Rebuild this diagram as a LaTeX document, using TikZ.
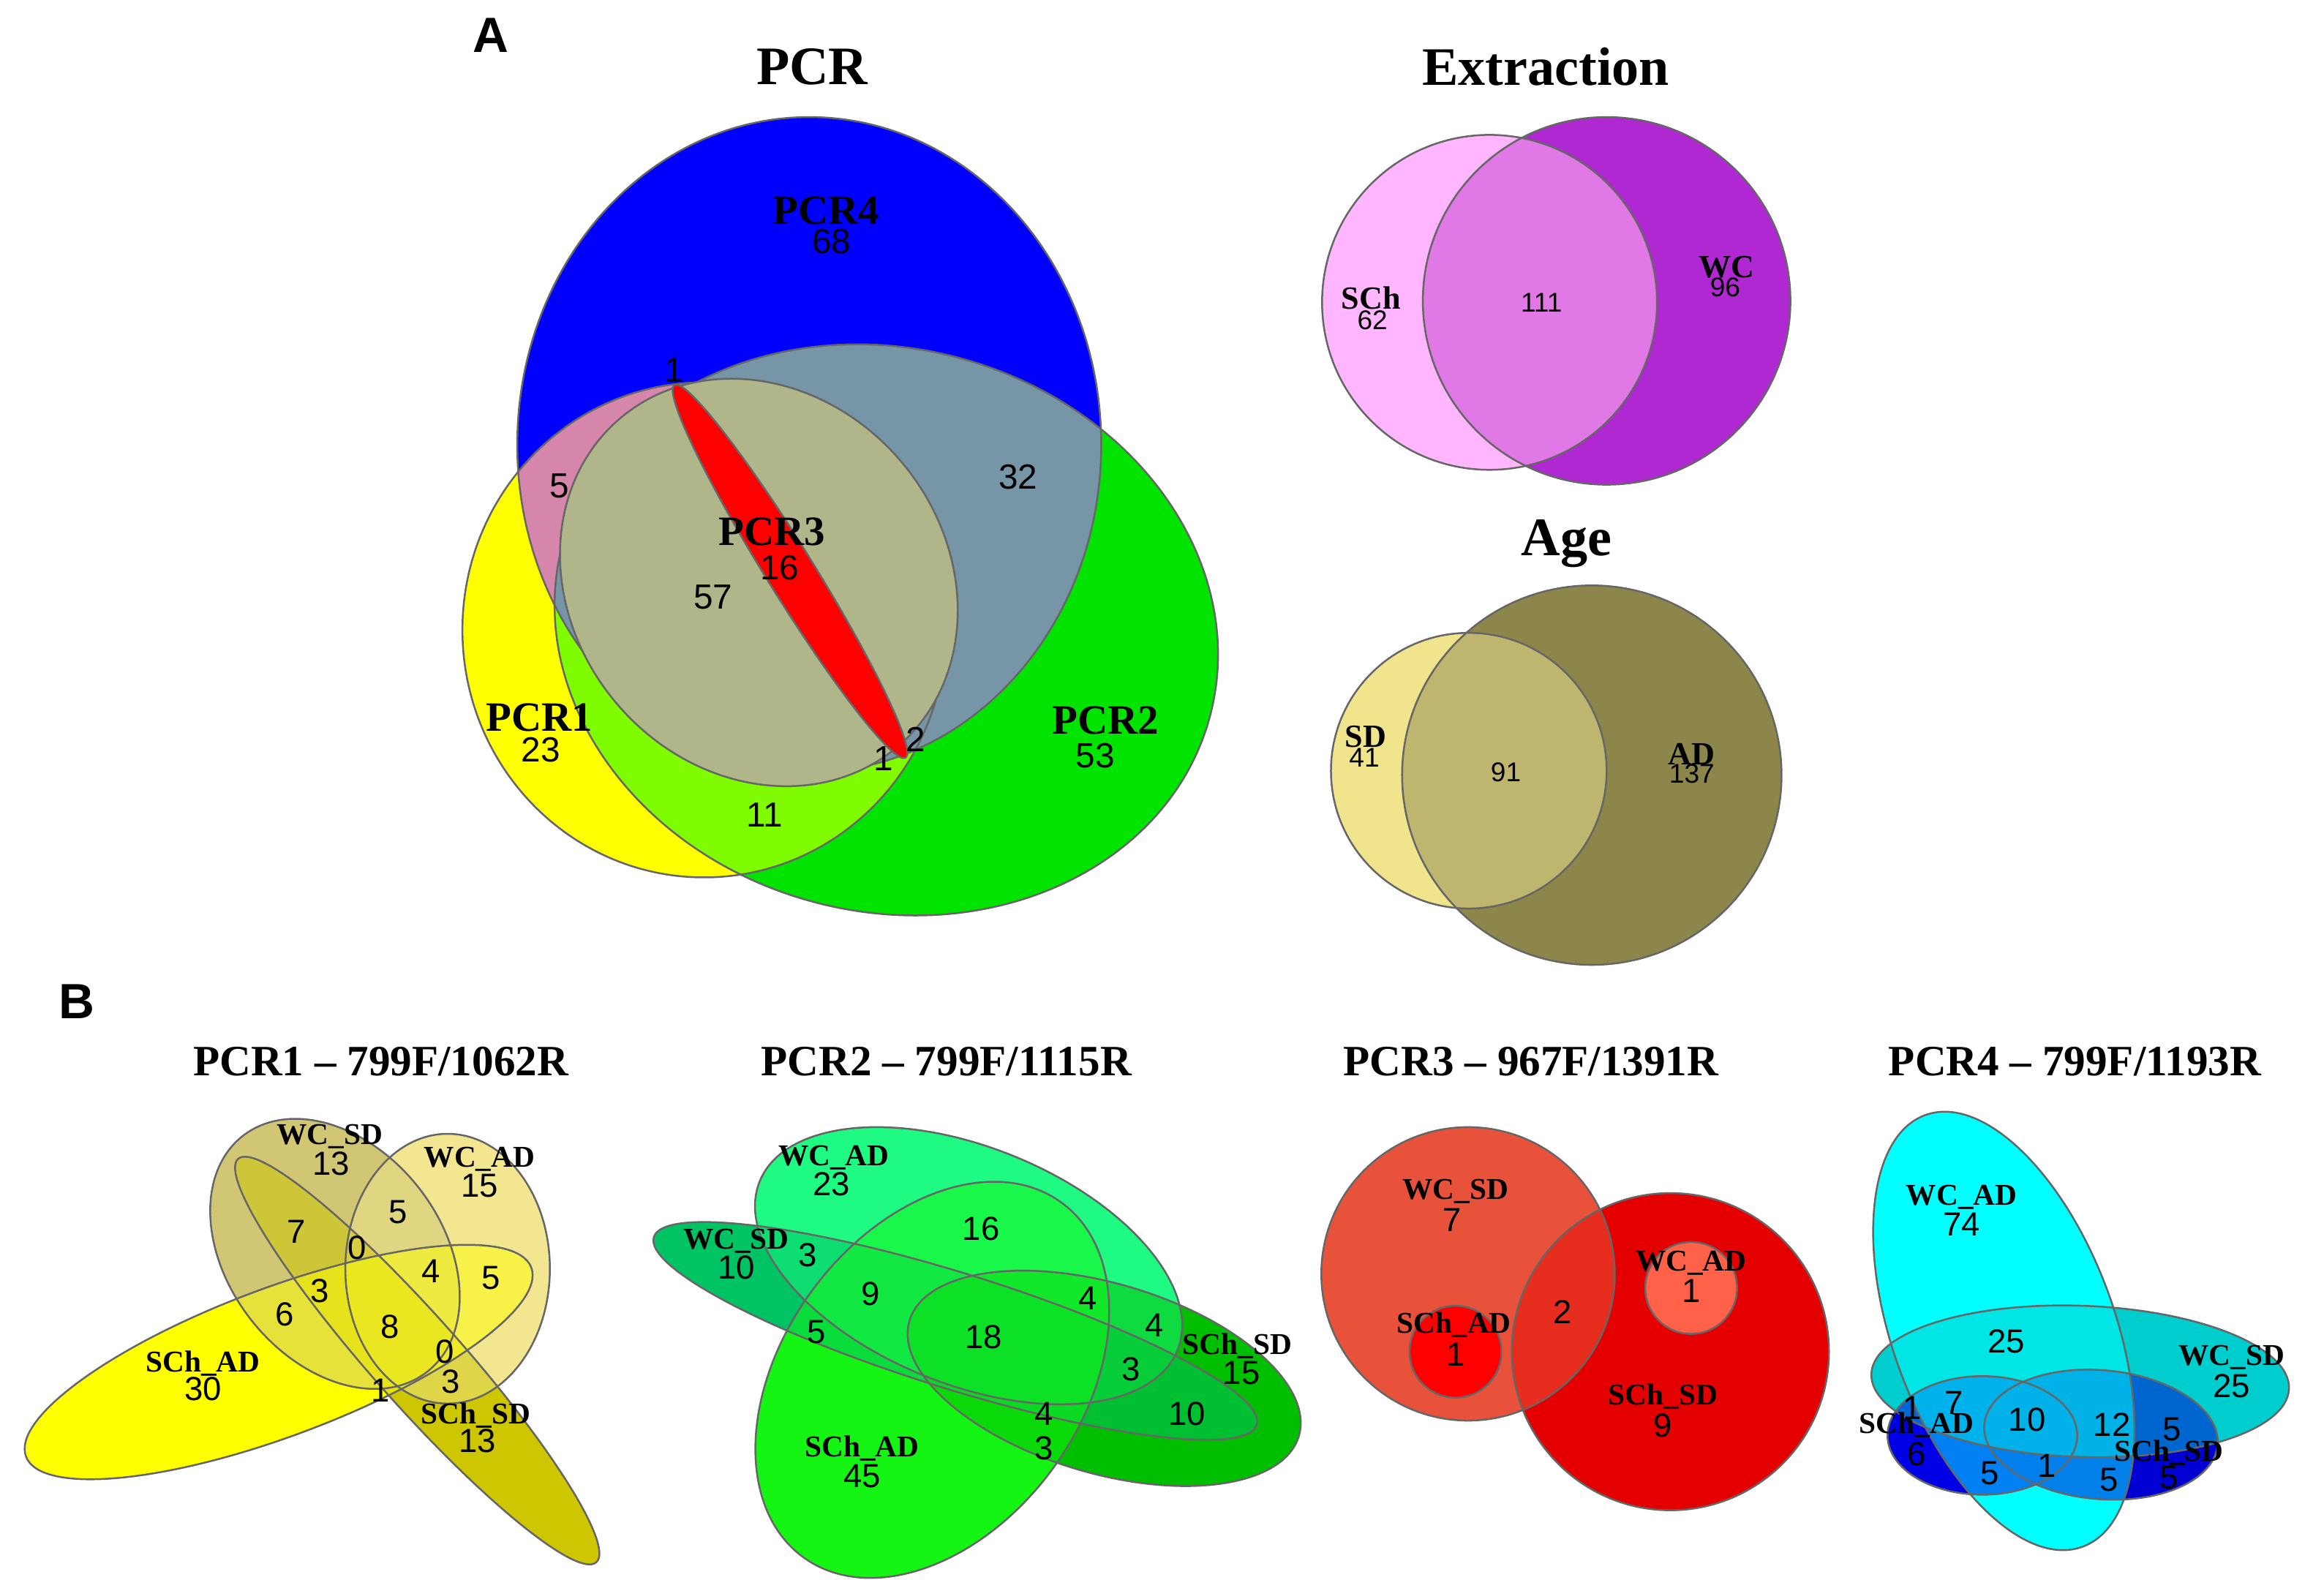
\documentclass[tikz,border=0pt]{standalone}
\usepackage{fontspec}
\setmainfont{Liberation Serif}
\setsansfont{Liberation Sans}
\definecolor{pcrone}{RGB}{255,255,0}
\definecolor{pcrtwo}{RGB}{0,228,0}
\definecolor{pcrfour}{RGB}{0,0,255}
\definecolor{pcrthree}{RGB}{176,182,138}
\definecolor{pcrpink}{RGB}{214,134,170}
\definecolor{pcrgrey}{RGB}{118,150,168}
\definecolor{pcrlime}{RGB}{128,252,0}
\definecolor{exsch}{RGB}{255,182,255}
\definecolor{exwc}{RGB}{176,40,210}
\definecolor{exboth}{RGB}{224,120,230}
\definecolor{agesd}{RGB}{240,228,140}
\definecolor{agead}{RGB}{140,134,75}
\definecolor{ageboth}{RGB}{190,182,110}
\definecolor{p1schad}{RGB}{255,255,0}
\definecolor{p1schsd}{RGB}{205,198,0}
\definecolor{p1wcsd}{RGB}{208,198,115}
\definecolor{p1wcad}{RGB}{242,230,145}
\definecolor{p2schad}{RGB}{20,245,20}
\definecolor{p2schsd}{RGB}{0,190,0}
\definecolor{p2wcsd}{RGB}{0,195,100}
\definecolor{p2wcad}{RGB}{30,250,130}
\definecolor{p3wcsd}{RGB}{232,82,58}
\definecolor{p3schsd}{RGB}{228,0,0}
\definecolor{p3both}{RGB}{230,45,30}
\definecolor{p3schad}{RGB}{255,0,0}
\definecolor{p3wcad}{RGB}{255,98,72}
\definecolor{p4wcad}{RGB}{0,255,255}
\definecolor{p4wcsd}{RGB}{0,205,205}
\definecolor{p4schad}{RGB}{0,0,230}
\definecolor{p4schsd}{RGB}{0,0,210}

\begin{document}
\begin{tikzpicture}[x=0.01cm,y=-0.01cm,
  vline/.style={draw=black!60,line width=0.35pt},
  panel/.style={font=\sffamily\bfseries\fontsize{9.5}{11}\selectfont,inner sep=0pt},
  ttl/.style={font=\bfseries\fontsize{10.4}{12}\selectfont,inner sep=0pt},
  subttl/.style={font=\bfseries\fontsize{8.3}{10}\selectfont,inner sep=0pt},
  setname/.style={font=\bfseries\fontsize{8}{9}\selectfont,inner sep=0pt},
  setnum/.style={font=\sffamily\fontsize{6.7}{8}\selectfont,inner sep=0pt},
  smname/.style={font=\bfseries\fontsize{6.2}{7}\selectfont,inner sep=0pt},
  smnum/.style={font=\sffamily\fontsize{5.2}{6}\selectfont,inner sep=0pt},
  bname/.style={font=\bfseries\fontsize{5.8}{7}\selectfont,inner sep=0pt},
  bnum/.style={font=\sffamily\fontsize{6.4}{7}\selectfont,inner sep=0pt},
  pone/.style={insert path={(475,425) ellipse [x radius=163, y radius=167]}},
  ptwo/.style={rotate around={-15:(598,425)},insert path={(598,425) ellipse [x radius=226, y radius=190]}},
  pfour/.style={insert path={(546,300) ellipse [x radius=197, y radius=221]}},
  pthree/.style={rotate around={-50:(512,393)},insert path={(512,393) ellipse [x radius=145, y radius=126]}},
  pred/.style={rotate around={-58.2:(533,385.5)},insert path={(533,385.5) ellipse [x radius=148, y radius=16]}}]
\useasboundingbox (0,0) rectangle (1568,1066);

% A: PCR
\node[panel] (lA) at (331,24) {A};
\node[ttl] (tpcr) at (548,45) {PCR};
\fill[pcrone,pone];
\fill[pcrtwo,ptwo];
\begin{scope}
\clip[pone];
\fill[pcrlime,ptwo];
\end{scope}
\fill[pcrfour,pfour];
\begin{scope}
\clip[pfour];
\fill[pcrpink,pone];
\fill[pcrgrey,ptwo];
\end{scope}
\draw[vline,pone];
\draw[vline,ptwo];
\draw[vline,pfour];
\fill[pcrthree,pthree];
\draw[vline,pthree];
\fill[red,pred];
\draw[vline,pred];
\foreach \x/\y/\lab [count=\i] in {557.5/142/PCR4, 521/359/PCR3, 364/484/PCR1, 746/486/PCR2}
  \node[setname] (an\i) at (\x,\y) {\lab};
\foreach \x/\y/\lab [count=\i] in {561/163/68, 377.5/328/5, 526/383/16, 481/403/57, 687/322/32, 365/506/23, 739/510/53, 516/550/11, 455/250/1, 618/499/2, 596/512/1}
  \node[setnum] (av\i) at (\x,\y) {\lab};

% A: Extraction, Age
\node[ttl] (text) at (1043,45) {Extraction};
\fill[exsch] (1005,204) circle [radius=113];
\fill[exwc] (1084,203) circle [radius=124];
\begin{scope}
\clip (1005,204) circle [radius=113];
\fill[exboth] (1084,203) circle [radius=124];
\end{scope}
\draw[vline] (1005,204) circle [radius=113];
\draw[vline] (1084,203) circle [radius=124];
\node[smname] (esch) at (925,201) {SCh};
\node[smname] (ewc) at (1165,180) {WC};
\node[smnum] (ev1) at (926,216) {62};
\node[smnum] (ev2) at (1040,204) {111};
\node[smnum] (ev3) at (1164,194) {96};

\node[ttl] (tage) at (1057,367) {Age};
\fill[agesd] (991,520) circle [radius=93];
\fill[agead] (1074,523) circle [radius=128];
\begin{scope}
\clip (991,520) circle [radius=93];
\fill[ageboth] (1074,523) circle [radius=128];
\end{scope}
\draw[vline] (991,520) circle [radius=93];
\draw[vline] (1074,523) circle [radius=128];
\node[smname] (gsd) at (921.5,497) {SD};
\node[smname] (gad) at (1141.5,509) {AD};
\node[smnum] (gv1) at (920.5,511) {41};
\node[smnum] (gv2) at (1016,521) {91};
\node[smnum] (gv3) at (1141.5,522) {137};

% B
\node[panel] (lB) at (52,676) {B};
\node[subttl] (t1) at (257,716) {PCR1 -- 799F/1062R};
\node[subttl] (t2) at (638.5,716) {PCR2 -- 799F/1115R};
\node[subttl] (t3) at (1033,716) {PCR3 -- 967F/1391R};
\node[subttl] (t4) at (1400,716) {PCR4 -- 799F/1193R};

\foreach \cx/\cy/\rx/\ry/\ang/\col in {188/919/182/50/20.5/p1schad, 281.5/918/182/30/-48.4/p1schsd, 226/846/101/72/-52/p1wcsd, 302/856/69/91/0/p1wcad,
    629/931/148/101/54/p2schad, 745/930/137/64/-16.5/p2schsd, 644.5/898/213/39/-17.3/p2wcsd, 653.5/854/152/80/-22/p2wcad,
    1352/898/155/75/-70/p4wcad, 1403.5/932/141/51/-2/p4wcsd, 1337.5/968.5/64/40/0/p4schad, 1417.5/968/79/43.5/-5/p4schsd}
  \fill[fill=\col,rotate around={\ang:(\cx,\cy)}] (\cx,\cy) ellipse [x radius=\rx, y radius=\ry];
\foreach \cx/\cy/\rx/\ry/\ang/\col in {302/856/69/91/0/p1wcad, 226/846/101/72/-52/p1wcsd, 281.5/918/182/30/-48.4/p1schsd, 188/919/182/50/20.5/p1schad,
    653.5/854/152/80/-22/p2wcad, 644.5/898/213/39/-17.3/p2wcsd, 745/930/137/64/-16.5/p2schsd, 629/931/148/101/54/p2schad,
    1417.5/968/79/43.5/-5/p4schsd, 1337.5/968.5/64/40/0/p4schad, 1403.5/932/141/51/-2/p4wcsd, 1352/898/155/75/-70/p4wcad}
  \fill[fill=\col,fill opacity=0.5,rotate around={\ang:(\cx,\cy)}] (\cx,\cy) ellipse [x radius=\rx, y radius=\ry];
\foreach \cx/\cy/\rx/\ry/\ang in {188/919/182/50/20.5, 281.5/918/182/30/-48.4, 226/846/101/72/-52, 302/856/69/91/0,
    629/931/148/101/54, 745/930/137/64/-16.5, 644.5/898/213/39/-17.3, 653.5/854/152/80/-22,
    1352/898/155/75/-70, 1403.5/932/141/51/-2, 1337.5/968.5/64/40/0, 1417.5/968/79/43.5/-5}
  \draw[vline,rotate around={\ang:(\cx,\cy)}] (\cx,\cy) ellipse [x radius=\rx, y radius=\ry];

% PCR3 circles
\fill[p3wcsd] (990.5,859.5) circle [radius=99];
\fill[p3schsd] (1127,912) circle [radius=107];
\begin{scope}
\clip (990.5,859.5) circle [radius=99];
\fill[p3both] (1127,912) circle [radius=107];
\end{scope}
\draw[vline] (990.5,859.5) circle [radius=99];
\draw[vline] (1127,912) circle [radius=107];
\fill[p3schad] (982,912) circle [radius=31];
\draw[vline] (982,912) circle [radius=31];
\fill[p3wcad] (1141,869) circle [radius=31];
\draw[vline] (1141,869) circle [radius=31];

\foreach \x/\y/\lab [count=\i] in {222.5/767/WC\_SD, 323.5/782/WC\_AD, 137/920/SCh\_AD, 321/955/SCh\_SD,
    562.6/781/WC\_AD, 496.7/837.6/WC\_SD, 834.8/908/SCh\_SD, 581.6/977/SCh\_AD,
    982/804/WC\_SD, 981/894/SCh\_AD, 1141/852/WC\_AD, 1122/942/SCh\_SD,
    1323.5/808/WC\_AD, 1505.6/916/WC\_SD, 1293/961.3/SCh\_AD, 1463.3/980/SCh\_SD}
  \node[bname] (bn\i) at (\x,\y) {\lab};
\foreach \x/\y/\lab [count=\i] in {223.5/785/13, 323.5/800/15, 137/937/30, 322/972/13, 200/831/7, 268.5/818/5, 240.7/842/0, 290.7/857.5/4, 331.5/862/5, 215.7/871/3, 192/887/6, 263/895/8, 300/912/0, 304/932/3, 256.5/938/1,
    561/799/23, 496.7/855/10, 545/847/3, 662/829/16, 587.5/873/9, 551/898.6/5, 663.6/902/18, 734/876/4, 779/894/4, 763/924/3, 837.7/926.4/15, 801/954/10, 704.5/954/4, 704.5/977/3, 581.6/996/45,
    980/823/7, 982/914/1, 1054.5/885/2, 1141/871/1, 1122/962/9,
    1323.5/826/74, 1353.6/905/25, 1505.6/935.3/25, 1290/950/1, 1318.3/946.7/7, 1293/981/6, 1367.7/958/10, 1425/961.3/12, 1465.3/964.6/5, 1463.3/997/5, 1342.5/994/5, 1380.8/989/1, 1423/998.7/5}
  \node[bnum] (bv\i) at (\x,\y) {\lab};
\end{tikzpicture}
\end{document}
